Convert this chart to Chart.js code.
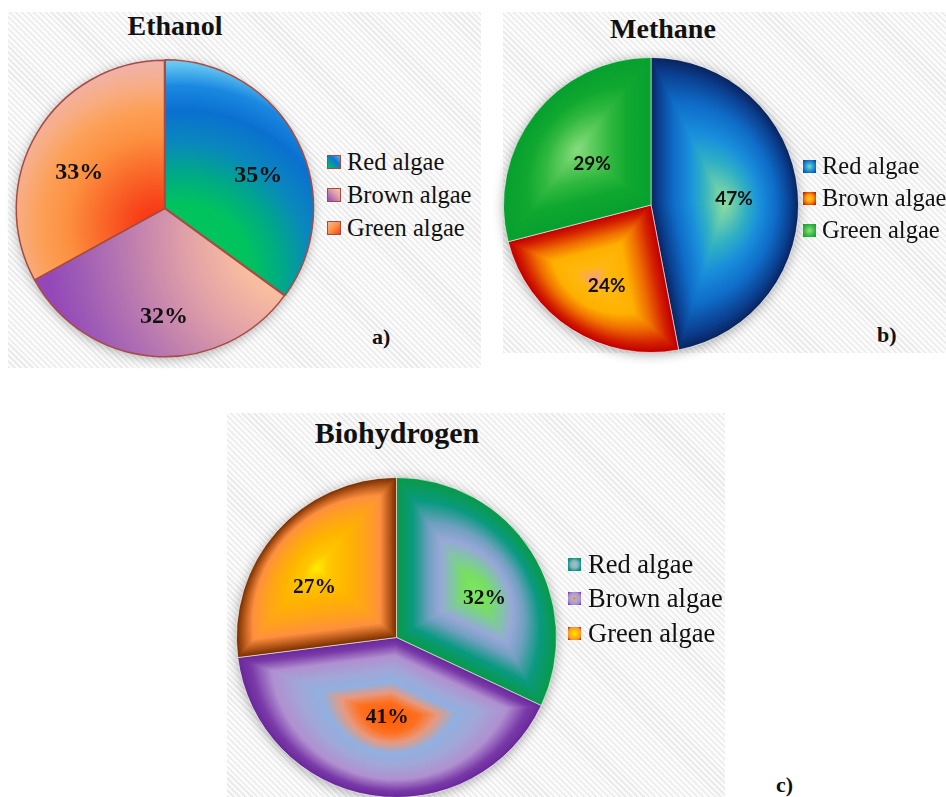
<!DOCTYPE html>
<html>
<head>
<meta charset="utf-8">
<title>Algae feedstock shares: ethanol, methane, biohydrogen</title>
<script src="https://cdn.jsdelivr.net/npm/chart.js@4.4.1/dist/chart.umd.min.js"></script>
<style>
html,body{margin:0;padding:0;}
body{width:946px;height:797px;position:relative;overflow:hidden;background:#fff;
  font-family:"Liberation Serif","Times New Roman",serif;color:#111;}
.panel{position:absolute;
  background:repeating-linear-gradient(45deg,#ebebeb 0px,#ebebeb 1.6px,#fbfbfb 1.6px,#fbfbfb 4.2px);}
.pie{position:absolute;}
.txt{position:absolute;white-space:nowrap;line-height:1;}
.title{font-weight:bold;transform:translateX(-50%);}
.tag{font-weight:bold;}
.sw{position:absolute;box-sizing:border-box;}
</style>
</head>
<body>
<div class="panel" style="left:8px;top:12px;width:473px;height:356px"></div>
<div class="panel" style="left:503px;top:12px;width:443px;height:341px"></div>
<div class="panel" style="left:227px;top:413px;width:498px;height:384px"></div>

<canvas id="ethanol" class="pie" width="325" height="325" style="left:2px;top:46px"></canvas>
<canvas id="methane" class="pie" width="320" height="320" style="left:491px;top:45px"></canvas>
<canvas id="biohydrogen" class="pie" width="345" height="345" style="left:224px;top:465px"></canvas>

<div class="txt title" style="left:175px;top:12px;font-size:28px">Ethanol</div>
<div class="txt title" style="left:663px;top:15px;font-size:28px">Methane</div>
<div class="txt title" style="left:397px;top:418px;font-size:30px">Biohydrogen</div>
<div class="txt tag" style="left:372px;top:326px;font-size:22px">a)</div>
<div class="txt tag" style="left:877px;top:324px;font-size:22px">b)</div>
<div class="txt tag" style="left:776px;top:774px;font-size:22px">c)</div>

<div id="legends"></div>

<script>
// ---- data ----
const categories = ['Red algae', 'Brown algae', 'Green algae'];
const ethanolShares = [35, 32, 33];
const methaneShares = [47, 24, 29];
const biohydrogenShares = [32, 41, 27];

// ---- colour helpers ----
function hexRgb(h) {
  const n = parseInt(h.slice(1), 16);
  return [(n >> 16) & 255, (n >> 8) & 255, n & 255];
}
function colorAt(stops, t) {
  for (let i = 1; i < stops.length; i++) {
    if (t <= stops[i][0]) {
      const [t0, c0] = stops[i - 1], [t1, c1] = stops[i];
      const u = (t - t0) / ((t1 - t0) || 1);
      const a = hexRgb(c0), b = hexRgb(c1);
      return 'rgb(' + a.map((v, k) => Math.round(v + (b[k] - v) * u)).join(',') + ')';
    }
  }
  return stops[stops.length - 1][1];
}
function radial(chart, x0, y0, rad, stops) {
  const g = chart.ctx.createRadialGradient(x0, y0, 0, x0, y0, rad);
  stops.forEach(([t, c]) => g.addColorStop(t, c));
  return g;
}
// centre of the bounding box of a wedge
function wedgeCentre(el) {
  const {x, y, outerRadius: r, startAngle: a0, endAngle: a1} = el;
  const xs = [x, x + r * Math.cos(a0), x + r * Math.cos(a1)];
  const ys = [y, y + r * Math.sin(a0), y + r * Math.sin(a1)];
  const q = Math.PI / 2;
  for (let k = Math.ceil(a0 / q); k * q <= a1; k++) {
    xs.push(x + r * Math.cos(k * q)); ys.push(y + r * Math.sin(k * q));
  }
  return [(Math.min(...xs) + Math.max(...xs)) / 2, (Math.min(...ys) + Math.max(...ys)) / 2];
}
// "shape" gradient: nested copies of the wedge shrinking toward its centre
function shapeFill(chart, el, stops) {
  const off = document.createElement('canvas');
  off.width = chart.width; off.height = chart.height;
  const g = off.getContext('2d');
  const [cx, cy] = wedgeCentre(el);
  const N = 90;
  for (let i = 0; i <= N; i++) {
    const t = i / N;
    const s = i === 0 ? 1.06 : 1 - t * 0.995;
    g.setTransform(s, 0, 0, s, cx * (1 - s), cy * (1 - s));
    g.beginPath();
    g.moveTo(el.x, el.y);
    g.arc(el.x, el.y, el.outerRadius, el.startAngle, el.endAngle);
    g.closePath();
    g.fillStyle = colorAt(stops, t);
    g.fill();
  }
  return chart.ctx.createPattern(off, 'no-repeat');
}

// ---- slice fills ----
const ethanolFills = [
  (ch, e) => radial(ch, e.x + 0.1 * e.outerRadius, e.y + 0.45 * e.outerRadius, 1.48 * e.outerRadius,
    [[0, '#00c85a'], [0.33, '#00c25e'], [0.47, '#00a888'], [0.6, '#0a88bc'], [0.75, '#0a70d0'],
     [0.86, '#1a88e0'], [0.95, '#5cc0f0'], [1, '#86d4f4']]),
  (ch, e) => radial(ch, e.x + 0.9 * e.outerRadius, e.y + 0.2 * e.outerRadius, 1.7 * e.outerRadius,
    [[0, '#fdc8a0'], [0.25, '#f8bca0'], [0.45, '#e0a0a8'], [0.6, '#c888ac'], [0.75, '#b070b2'],
     [0.9, '#9c58b6'], [1, '#9448b8']]),
  (ch, e) => radial(ch, e.x - 0.05 * e.outerRadius, e.y + 0.12 * e.outerRadius, 1.1 * e.outerRadius,
    [[0, '#f83010'], [0.15, '#f8441a'], [0.35, '#fa6a2a'], [0.55, '#fc9040'], [0.72, '#fca058'],
     [0.85, '#f8ac80'], [1, '#f0b2a8']])
];
const methaneFills = [
  (ch, e) => shapeFill(ch, e, [[0, '#0a2560'], [0.1, '#0b3f8f'], [0.3, '#0f6cc8'], [0.52, '#1a8fdc'],
    [0.7, '#30b0c4'], [0.85, '#60c8b0'], [1, '#90dca0']]),
  (ch, e) => shapeFill(ch, e, [[0, '#c00000'], [0.12, '#d42000'], [0.32, '#f07000'], [0.52, '#ffb000'],
    [0.8, '#ffb810'], [1, '#f8a080']]),
  (ch, e) => shapeFill(ch, e, [[0, '#08a030'], [0.3, '#10a830'], [0.55, '#30b840'], [0.8, '#60cc60'],
    [1, '#88dd80']])
];
const biohydrogenFills = [
  (ch, e) => shapeFill(ch, e, [[0, '#0a9a48'], [0.2, '#0a9a80'], [0.4, '#70a0c0'], [0.55, '#98a8d8'],
    [0.7, '#80c8a0'], [0.85, '#78e060'], [1, '#80e468']]),
  (ch, e) => shapeFill(ch, e, [[0, '#6a2a9a'], [0.08, '#7a3aa8'], [0.22, '#b090d0'], [0.4, '#a0a8d8'],
    [0.55, '#90b0e0'], [0.68, '#e89a80'], [0.8, '#ff7020'], [1, '#ff5a00']]),
  (ch, e) => shapeFill(ch, e, [[0, '#7a3000'], [0.1, '#c06020'], [0.2, '#ff9040'], [0.35, '#ffa020'],
    [0.6, '#ffb400'], [0.85, '#ffc800'], [1, '#ffee00']])
];

// ---- plugins ----
const pieShadow = {
  id: 'pieShadow',
  beforeDatasetsDraw(chart) {
    const arc = chart.getDatasetMeta(0).data[0];
    if (!arc) return;
    const ctx = chart.ctx;
    ctx.save();
    ctx.shadowColor = 'rgba(0,0,0,0.32)';
    ctx.shadowBlur = 12;
    ctx.shadowOffsetY = 2;
    ctx.beginPath();
    ctx.arc(arc.x, arc.y, arc.outerRadius, 0, Math.PI * 2);
    ctx.fillStyle = '#f6f6f6';
    ctx.fill();
    ctx.restore();
  }
};
const pctLabels = {
  id: 'pctLabels',
  afterDatasetsDraw(chart, args, opts) {
    const meta = chart.getDatasetMeta(0);
    const values = chart.data.datasets[0].data;
    const ctx = chart.ctx;
    ctx.save();
    ctx.font = opts.font;
    ctx.fillStyle = '#111';
    ctx.textAlign = 'center';
    ctx.textBaseline = 'alphabetic';
    meta.data.forEach((arc, i) => {
      const [frac, dDeg] = opts.place[i];
      const mid = (arc.startAngle + arc.endAngle) / 2;
      const shift = arc.options.offset || 0;
      const a = mid + dDeg * Math.PI / 180;
      const rr = arc.outerRadius * frac;
      const x = arc.x + Math.cos(mid) * shift + Math.cos(a) * rr;
      const y = arc.y + Math.sin(mid) * shift + Math.sin(a) * rr;
      ctx.fillText(values[i] + '%', x, y + opts.midToBase);
    });
    ctx.restore();
  }
};

function buildPie(id, values, fills, cfg) {
  const chart = new Chart(document.getElementById(id), {
    type: 'pie',
    data: {
      labels: categories,
      datasets: [{
        data: values,
        backgroundColor: (c) => {
          const el = c.element;
          if (!el || typeof el.x !== 'number' || !(el.outerRadius > 0)) return cfg.fallback[c.dataIndex];
          return fills[c.dataIndex](c.chart, el);
        },
        borderColor: cfg.borderColor,
        borderWidth: cfg.borderWidth,
        offset: cfg.offset
      }]
    },
    options: {
      responsive: false,
      animation: false,
      events: [],
      layout: {padding: 12},
      plugins: {
        legend: {display: false},
        tooltip: {enabled: false},
        pctLabels: {font: cfg.font, place: cfg.place, midToBase: cfg.midToBase}
      }
    },
    plugins: [pieShadow, pctLabels]
  });
  chart.update();
  return chart;
}

buildPie('ethanol', ethanolShares, ethanolFills, {
  fallback: ['#0a85c0', '#d898ac', '#fc9040'],
  borderColor: '#a84a40', borderWidth: 1.5, offset: [3, 0, 0],
  font: 'bold 24px "Liberation Serif", "Times New Roman", serif', midToBase: 8.2,
  place: [[0.654, 7.1], [0.72, -3.3], [0.63, -6.5]]
});
buildPie('methane', methaneShares, methaneFills, {
  fallback: ['#1a8fdc', '#ffb000', '#30b840'],
  borderColor: 'rgba(255,255,255,0.55)', borderWidth: 1, offset: 0,
  font: 'bold 19px Lato, "Open Sans", sans-serif', midToBase: 6.8,
  place: [[0.565, 0.6], [0.62, -3.4], [0.49, -2.6]]
});
buildPie('biohydrogen', biohydrogenShares, biohydrogenFills, {
  fallback: ['#98a8d8', '#90b0e0', '#ffb400'],
  borderColor: 'rgba(255,255,255,0.55)', borderWidth: 1, offset: 0,
  font: 'bold 21.5px "Liberation Serif", "Times New Roman", serif', midToBase: 7.3,
  place: [[0.607, 7.4], [0.493, -2.2], [0.606, -9.2]]
});

// ---- legends ----
const legendSpecs = [
  {textLeft: 347, swLeft: 327, sw: 14, font: 24.5, rows: [162, 195, 228],
   border: '1.5px solid #a84a40',
   swatches: ['linear-gradient(225deg,#4cb4ec 0%,#0a78d2 40%,#04c060 100%)',
              'linear-gradient(45deg,#9448b8 0%,#d898ac 55%,#fcc8a0 100%)',
              'linear-gradient(135deg,#f6b8a0 0%,#fb9040 50%,#f84018 100%)']},
  {textLeft: 822, swLeft: 803, sw: 13, font: 24.5, rows: [166.7, 198.5, 230],
   border: 'none',
   swatches: ['radial-gradient(circle,#7fd8b0 0%,#1a90dc 50%,#0a3a8a 100%)',
              'radial-gradient(circle,#ffc040 0%,#ffa000 40%,#e04000 75%,#c00000 100%)',
              'radial-gradient(circle,#90e080 0%,#30b840 60%,#0a9a28 100%)']},
  {textLeft: 588, swLeft: 568, sw: 13, font: 26.5, rows: [564, 598, 633],
   border: 'none',
   swatches: ['radial-gradient(circle,#80e070 0%,#98a8d8 40%,#0a9a80 72%,#0a9a48 100%)',
              'radial-gradient(circle,#ff6000 0%,#f0a070 15%,#98b0e0 35%,#b090d0 65%,#7028a0 100%)',
              'radial-gradient(circle,#ffee00 0%,#ffb400 45%,#ff9040 70%,#7a3000 100%)']}
];
const host = document.getElementById('legends');
legendSpecs.forEach(spec => {
  categories.forEach((name, i) => {
    const cy = spec.rows[i];
    const sw = document.createElement('div');
    sw.className = 'sw';
    sw.style.cssText = `left:${spec.swLeft}px;top:${cy - spec.sw / 2}px;width:${spec.sw}px;height:${spec.sw}px;` +
      `background:${spec.swatches[i]};border:${spec.border};`;
    host.appendChild(sw);
    const t = document.createElement('div');
    t.className = 'txt';
    t.style.cssText = `left:${spec.textLeft}px;top:${cy - 0.507 * spec.font}px;font-size:${spec.font}px;`;
    t.textContent = name;
    host.appendChild(t);
  });
});
</script>
</body>
</html>
